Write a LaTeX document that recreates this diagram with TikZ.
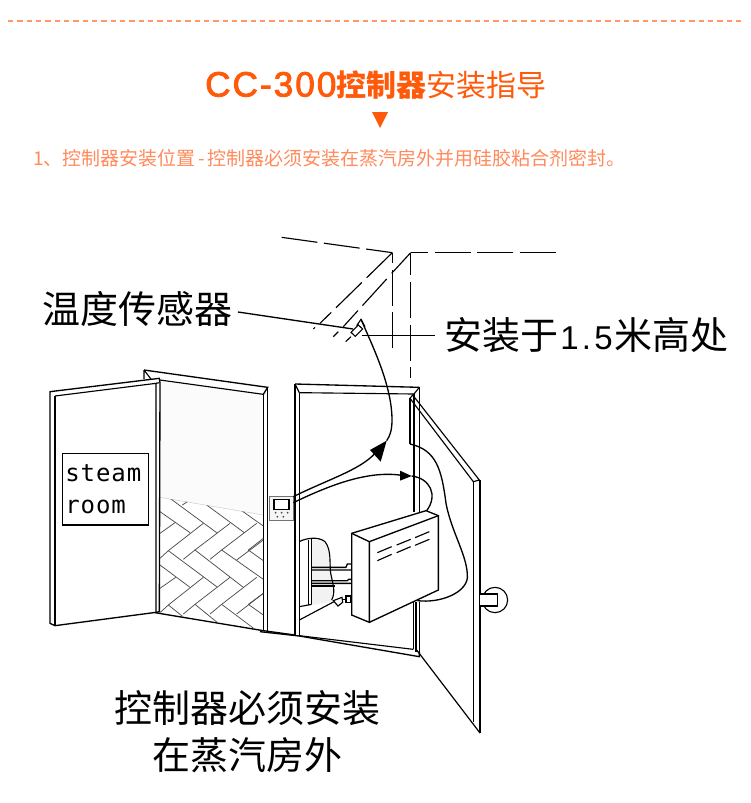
\documentclass[tikz,border=0pt]{standalone}
\usepackage{fontspec}
\setmainfont{Liberation Sans}
\newfontfamily\cjkf{Noto Sans CJK SC}
\newfontfamily\latf{Liberation Sans}
\newfontfamily\titlef[LetterSpace=6,FakeBold=2.5]{Liberation Sans}
\newfontfamily\monof[LetterSpace=4]{DejaVu Sans Mono}
\definecolor{titleor}{HTML}{FF5A0A}
\definecolor{subor}{HTML}{FF8A5C}
\definecolor{dashor}{HTML}{FF9A66}
\newcommand{\pxfont}[1]{\fontsize{\the\dimexpr #1pt*3/4\relax}{#1pt}\selectfont}
\begin{document}
\begin{tikzpicture}[x=0.75pt,y=-0.75pt,line join=miter,
  ink/.style={draw=black,line width=0.85pt},
  thin ink/.style={draw=black!70,line width=0.55pt},
  wire/.style={draw=black,line width=1pt},
  longdash/.style={draw=black,line width=0.85pt,dash pattern=on 27pt off 5pt},
  label/.style={inner sep=0pt,anchor=west,text=black},
  zoomA/.style={shift={(260,370)},x=0.25pt,y=-0.25pt},
  zoomB/.style={shift={(40,360)},x=0.25pt,y=-0.25pt},
  zoomC/.style={shift={(230,225)},x=0.25pt,y=-0.25pt},
  zoomD/.style={shift={(155,490)},x=0.25pt,y=-0.25pt}]
\useasboundingbox (0,0) rectangle (750,803);
\fill[white] (0,0) rectangle (750,803);

% header
\coordinate (dl) at (8,21); \coordinate (dr) at (742,21);
\draw[dashor,line width=1pt,dash pattern=on 4pt off 3pt] (dl) -- (dr);
\node[inner sep=0pt,anchor=west,text=titleor] (title) at (205,85)
  {\pxfont{35}{\titlef CC-300}\pxfont{30}{\cjkf\bfseries 控制器}{\cjkf 安装指导}};
\fill[titleor] (372,112) -- (388,112) -- (380,128) -- cycle;
\node[inner sep=0pt,anchor=west,text=subor] (sub) at (33,158)
  {\pxfont{19}\cjkf 1、控制器安装位置\kern2pt-\kern2pt 控制器必须安装在蒸汽房外并用硅胶粘合剂密封。};

% left opening
\begin{scope}[zoomB]
  \fill[black!1.5] (360,60) -- (670,103) -- (670,465) -- (360,412) -- cycle;
  \draw[black!18,line width=0.4pt] (360,412) -- (670,465);
  % wall top and post
  \draw[ink] (360,60) -- (670,103);
  \draw[ink,line width=1pt] (312,30) -- (683,82) -- (670,103);
  \draw[ink] (312,30) -- (312,57) (312,30) -- (335,60);
  \draw[ink] (670,103) -- (670,812) (683,82) -- (683,815);
  \draw[ink,line width=1pt] (345,758) -- (670,812) -- (765,825);
\end{scope}
\begin{scope}[zoomD]
  \clip (15,22) -- (325,75) -- (325,420) -- (15,368) -- cycle;
  \foreach \a/\b/\c/\d in {
    45/25/185/128, 15/65/105/128, 155/45/268/128, 260/62/325/108,
    40/182/185/290, 120/180/265/292, 200/180/325/268, 280/180/325/212,
    15/225/105/292, 40/345/90/385, 120/343/190/400, 200/343/300/418, 280/343/325/375,
    15/130/60/98, 40/182/145/100, 120/180/225/100, 200/180/305/100,
    245/210/325/150, 280/180/325/145, 15/295/62/262, 40/345/145/262,
    120/343/225/262, 200/343/305/262, 245/372/325/310, 280/343/325/310,
    82/45/97/35, 15/205/40/182, 15/368/40/345, 85/208/120/180,
    165/208/200/180, 85/372/120/343, 165/372/200/343}
    \draw[thin ink] (\a,\b) -- (\c,\d);
\end{scope}
\begin{scope}[zoomB]
  % door
  \draw[ink,line width=1pt,fill=white] (30,95) -- (358,55) -- (360,68) -- (358,755) -- (348,757) -- (45,797) -- (30,790) -- cycle;
  \draw[ink] (45,108) -- (348,70) -- (348,757);
  \draw[ink] (45,108) -- (45,797);
  \draw[ink] (348,70) -- (358,68);
  % sign
  \draw[ink,line width=1pt,fill=white] (67,280) rectangle (325,495);
\end{scope}
\node[label,font=\monof\pxfont{24}] (steam) at (65,473) {steam};
\node[label,font=\monof\pxfont{24}] (room) at (65,507) {room};

% dashed room outline and sensor
\begin{scope}[zoomC]
  \draw[longdash] (155,37) -- (487,83);
  \draw[longdash] (487,83) -- (270,295);
  \draw[longdash] (487,370) -- (487,83);
  \draw[ink] (542,83) -- (485,145);
  \draw[longdash] (470,162) -- (340,305);
  \draw[longdash] (978,83) -- (542,83);
  \draw[longdash,dash phase=10pt] (542,83) -- (542,460);
  \draw[ink] (255,307) -- (250,312) (325,320) -- (310,335) (363,335) -- (347,350);
  \draw[ink,fill=white] (363,322) -- (385,300) -- (398,312) -- (376,334) -- cycle;
  \draw[ink] (380,302) -- (393,283) -- (405,305);
  \draw[ink] (395,332) -- (615,332);
  \coordinate (cablefrom) at (393,283);
\end{scope}
\coordinate (lblA) at (238,312); \coordinate (lblB) at (353,329);
\draw[wire] (lblA) -- (lblB);
\node[label,font=\cjkf\pxfont{38}] (tsensor) at (42,309) {温度传感器};
\node[label,font=\cjkf\pxfont{38}] (height) at (444,335) {安装于{\latf\pxfont{33}\kern1.5pt 1\kern2.5pt.\kern2.5pt 5\kern1.5pt}米高处};

% right opening
\begin{scope}[zoomA]
  % generator behind heater
  \fill[black!5] (155,510) .. controls (200,500) and (212,540) .. (212,590) .. controls (220,630) and (225,670) .. (215,695) -- (155,705) -- cycle;
  \draw[ink] (118,515) .. controls (135,505) and (175,498) .. (195,515) .. controls (215,540) and (208,580) .. (212,610) .. controls (218,640) and (228,665) .. (215,690);
  \draw[ink] (145,510) -- (145,705) (155,508) -- (155,703);
  \draw[ink] (118,710) -- (155,703);
  \draw[ink,line width=1pt] (155,592) -- (258,592) (155,600) -- (258,600) (258,592) -- (262,582) -- (297,582) (258,600) -- (297,600);
  \draw[ink,line width=1pt] (155,632) -- (262,632) (155,640) -- (258,640) (262,632) -- (266,628) -- (297,628) (258,640) -- (297,640);
  \draw[ink] (155,648) -- (225,648);
  \draw[ink] (118,750) -- (222,695);
  \draw[ink,fill=white] (220,692) -- (246,682) -- (248,697) -- (234,708) -- cycle;
  \draw[ink,fill=white] (258,678) rectangle (272,698);
  \draw[ink] (248,688) -- (258,688) (272,680) -- (297,680) (272,693) -- (297,693);
  % frame
  \draw[ink,line width=1pt] (105,42) -- (478,52);
  \draw[ink] (118,68) -- (462,72);
  \draw[ink] (105,42) -- (118,68) (478,52) -- (462,72);
  \draw[ink] (105,42) -- (105,795) (118,68) -- (118,798);
  \draw[ink] (478,52) -- (478,425) (462,72) -- (462,425);
  \draw[ink] (450,85) -- (450,222);
  \draw[ink] (460,695) -- (460,838) (468,695) -- (468,845) (478,695) -- (478,860);
  \draw[ink,line width=1pt] (0,785) -- (118,798) -- (478,860) -- (478,845);
  \draw[ink] (118,797) -- (460,838);
  % door
  \draw[ink] (458,75) -- (658,330) -- (640,335) -- (450,85) -- cycle;
  \draw[ink] (640,335) -- (640,1056) (660,330) -- (660,1089);
  \draw[ink,line width=0.9pt] (470,840) -- (660,1089);
  % handle
  \draw[ink] (705,690) circle (38);
  \draw[ink,fill=white] (660,672) -- (712,672) -- (712,708) -- (660,708);
  % heater
  \draw[ink,line width=1pt,fill=white] (275,490) -- (498,422) -- (535,437) -- (535,660) -- (328,757) -- (275,735) -- cycle;
  \draw[ink,line width=1pt] (275,490) -- (328,515) -- (535,437) (328,515) -- (328,757);
  \draw[ink] (352,548) -- (395,530) (352,572) -- (395,553) (410,525) -- (452,508) (410,548) -- (452,530) (465,503) -- (508,485) (465,526) -- (508,508);
  % controller
  \draw[black!55,line width=0.6pt,fill=black!4] (28,380) rectangle (100,450);
  \draw[ink,fill=white] (42,388) rectangle (87,418);
  \foreach \p/\q in {47/428,65/428,83/428,52/440,70/440} \fill[black!70] (\p,\q) circle (3);
  % arrow wires
  \coordinate (tipA) at (380,212);
  \draw[wire] (100,380) .. controls (200,330) and (300,300) .. (345,250);
  \fill[black] (380,212) -- (330,240) -- (362,275) -- cycle;
  \draw[wire] (100,398) .. controls (200,350) and (320,300) .. (425,316);
  \fill[black] (420,302) -- (420,332) -- (455,318) -- cycle;
  \draw[wire] (455,318) .. controls (510,325) and (535,375) .. (500,422);
  \draw[wire] (450,222) .. controls (530,240) and (545,300) .. (558,400) .. controls (575,490) and (625,560) .. (622,625) .. controls (615,670) and (540,700) .. (472,692);
\end{scope}
\draw[wire] (cablefrom) .. controls (372,345) and (392,385) .. (392,420) .. controls (392,430) and (390,436) .. (tipA);

% bottom text
\node[inner sep=0pt,font=\cjkf\pxfont{38}] (bot1) at (247,708) {控制器必须安装};
\node[inner sep=0pt,font=\cjkf\pxfont{38}] (bot2) at (247,755) {在蒸汽房外};
\end{tikzpicture}
\end{document}
